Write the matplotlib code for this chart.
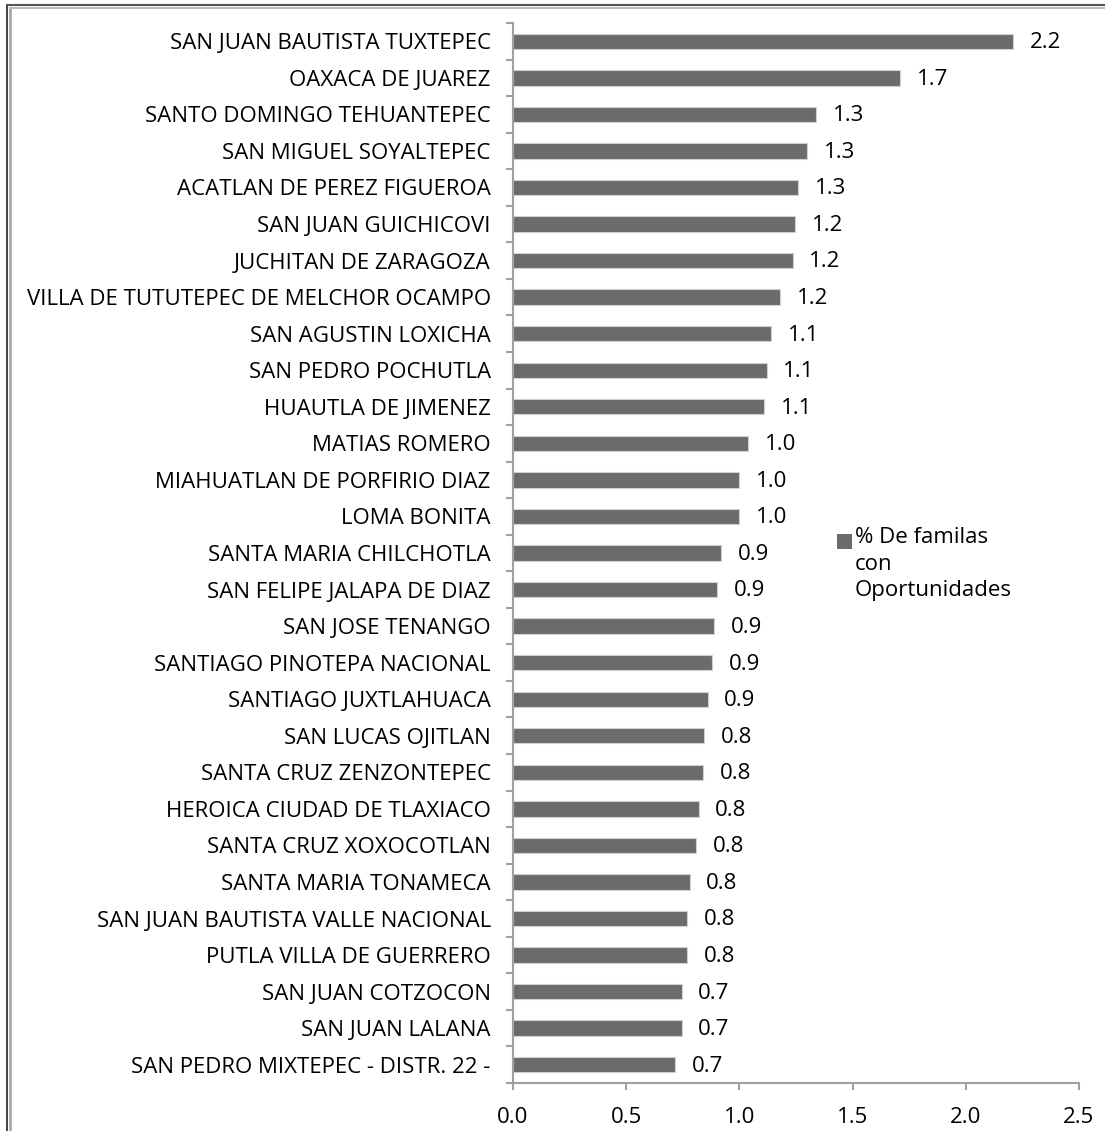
import numpy as np
import matplotlib.pyplot as plt
from matplotlib.patches import Rectangle
from matplotlib.lines import Line2D

municipios = [
    "SAN JUAN BAUTISTA TUXTEPEC", "OAXACA DE JUAREZ", "SANTO DOMINGO TEHUANTEPEC",
    "SAN MIGUEL SOYALTEPEC", "ACATLAN DE PEREZ FIGUEROA", "SAN JUAN GUICHICOVI",
    "JUCHITAN DE ZARAGOZA", "VILLA DE TUTUTEPEC DE MELCHOR OCAMPO", "SAN AGUSTIN LOXICHA",
    "SAN PEDRO POCHUTLA", "HUAUTLA DE JIMENEZ", "MATIAS ROMERO",
    "MIAHUATLAN DE PORFIRIO DIAZ", "LOMA BONITA", "SANTA MARIA CHILCHOTLA",
    "SAN FELIPE JALAPA DE DIAZ", "SAN JOSE TENANGO", "SANTIAGO PINOTEPA NACIONAL",
    "SANTIAGO JUXTLAHUACA", "SAN LUCAS OJITLAN", "SANTA CRUZ ZENZONTEPEC",
    "HEROICA CIUDAD DE TLAXIACO", "SANTA CRUZ XOXOCOTLAN", "SANTA MARIA TONAMECA",
    "SAN JUAN BAUTISTA VALLE NACIONAL", "PUTLA VILLA DE GUERRERO", "SAN JUAN COTZOCON",
    "SAN JUAN LALANA", "SAN PEDRO MIXTEPEC - DISTR. 22 -",
]
porcentaje = [
    2.21, 1.71, 1.34, 1.30, 1.26, 1.245, 1.235, 1.18, 1.14,
    1.12, 1.11, 1.04, 1.00, 1.00, 0.92, 0.90, 0.89, 0.88,
    0.86, 0.845, 0.84, 0.82, 0.81, 0.78, 0.77, 0.77, 0.745,
    0.745, 0.715,
]
etiquetas = ["{:.1f}".format(v) for v in porcentaje]
ticks_x = [0.0, 0.5, 1.0, 1.5, 2.0, 2.5]

plt.rcParams['font.family'] = ['Open Sans', 'DejaVu Sans']
FS = 16
BAR = '#6b6b6b'
AXIS = '#a0a0a0'

fig = plt.figure(figsize=(11.05, 11.31), dpi=100)
ax = fig.add_axes([513 / 1105, 1 - 1083 / 1131, 566 / 1105, 1060 / 1131])

n = len(municipios)
y = np.arange(n)
bars = ax.barh(y, porcentaje, height=0.42, color=BAR, edgecolor='#d0d0d0',
               linewidth=0.8, label='% De familas')

for v, lab, yy in zip(porcentaje, etiquetas, y):
    ax.annotate(lab, xy=(v, yy), xytext=(12, -1), textcoords='offset points',
                ha='left', va='center', fontsize=FS, color='black')

ax.set_ylim(n - 0.5, -0.5)
ax.set_xlim(0, 2.5)
ax.set_yticks(y)
ax.set_yticklabels(municipios, fontsize=FS)
ax.set_yticks(np.arange(n + 1) - 0.5, minor=True)
ax.tick_params(axis='y', which='major', length=0, pad=16)
ax.tick_params(axis='y', which='minor', length=5, color=AXIS, width=1.5)
ax.set_xticks(ticks_x)
ax.set_xticklabels(["{:.1f}".format(t) for t in ticks_x], fontsize=FS)
ax.tick_params(axis='x', which='major', length=5, color=AXIS, width=1.5, pad=12)

for s in ['top', 'right']:
    ax.spines[s].set_visible(False)
for s in ['left', 'bottom']:
    ax.spines[s].set_color(AXIS)
    ax.spines[s].set_linewidth(1.5)

# legend
fig.patches.append(Rectangle((837 / 1105, 1 - 549 / 1131), 15 / 1105, 15 / 1131,
                             transform=fig.transFigure, facecolor=BAR, edgecolor='none'))
fig.text(855 / 1105, 1 - 527 / 1131, "% De familas\ncon\nOportunidades",
         ha='left', va='top', fontsize=FS, linespacing=1.35,
         transform=fig.transFigure)

# outer frame (double line)
fig.add_artist(Line2D([7 / 1105, 7 / 1105], [0, 1 - 5 / 1131], color='#222222', lw=1.2,
                      transform=fig.transFigure))
fig.add_artist(Line2D([10 / 1105, 10 / 1105], [0, 1 - 8 / 1131], color='#aaaaaa', lw=2,
                      transform=fig.transFigure))
fig.add_artist(Line2D([7 / 1105, 1], [1 - 5 / 1131, 1 - 5 / 1131], color='#555555', lw=1.5,
                      transform=fig.transFigure))
fig.add_artist(Line2D([10 / 1105, 1], [1 - 8 / 1131, 1 - 8 / 1131], color='#bbbbbb', lw=1.5,
                      transform=fig.transFigure))

fig.savefig('out.png', dpi=100)
